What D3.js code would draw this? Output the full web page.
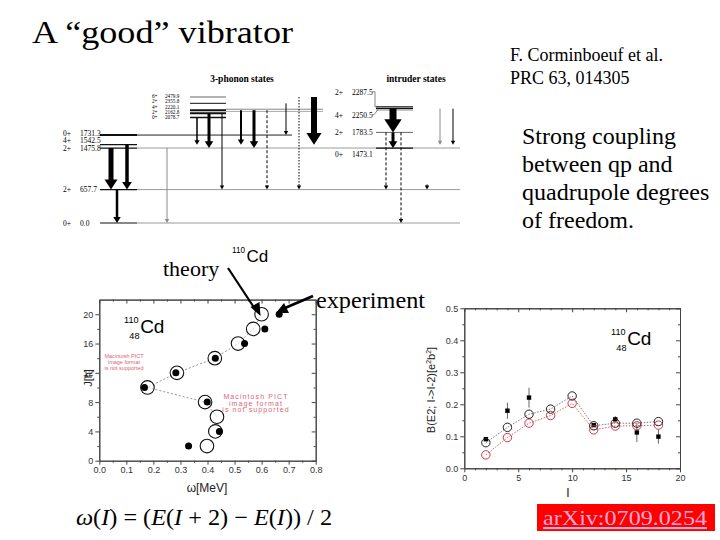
<!DOCTYPE html>
<html><head><meta charset="utf-8">
<script src="https://cdn.jsdelivr.net/npm/d3@7"></script>
<style>body{margin:0;background:#fff} svg{display:block}</style>
</head><body>
<script>
// ================= DATA =================
// level scheme (keV)
const groundSpins = ["0+","2+","2+","4+","0+"];
const groundEnergies = [0, 657.7, 1475.8, 1542.5, 1731.3];
const phononSpins = ["0+","2+","4+","2+","6+"];
const phononEnergies = [2078.7, 2162.8, 2220.1, 2355.8, 2479.9];
const intruderSpins = ["0+","2+","4+","2+"];
const intruderEnergies = [1473.1, 1783.5, 2250.5, 2287.5];
// transitions
const transFrom = [1475.8,1542.5,657.7,1475.8,2078.7,2162.8,2162.8,2220.1,2220.1,2220.1,2355.8,2479.9,2479.9,2250.5,1783.5,1783.5,1783.5,760,2250.5,2250.5];
const transTo   = [657.7,657.7,0,0,1542.5,1475.8,657.7,1542.5,1475.8,657.7,1731.3,657.7,1542.5,1783.5,1473.1,657.7,0,657.7,1542.5,1542.5];
const transIntensity = [5,3.5,2.5,1,1.5,3,1,2,3,1,1,1,6,7,3,1,1,1,1,1];
const transType = ["solid","solid","solid","gray","solid","solid","solid","solid","solid","dashed","solid","dotted","solid","solid","solid","dashed","dashed","solid","gray","solid"];
const transSlot = [11,27,17,67,97,109,122,141,154,167,186,199,214,293,293,286,301,327,340,353];

// omega vs spin
const spinTheory = [2,4,6,8,10,12,14,16,18,20];
const omegaTheory = [0.398,0.429,0.435,0.391,0.178,0.287,0.427,0.513,0.569,0.600];
const spinExp = [2,4,8,10,12,14,16,18,20];
const omegaExp = [0.330,0.444,0.399,0.167,0.283,0.429,0.537,0.612,0.665];
const omegaTicks = [0,0.1,0.2,0.3,0.4,0.5,0.6,0.7,0.8];
const spinTicks = [0,4,8,12,16,20];

// B(E2) vs spin
const spinB = [2,4,6,8,10,12,14,16,18];
const be2TheoryA = [0.080,0.128,0.169,0.185,0.226,0.133,0.141,0.141,0.146];
const be2TheoryB = [0.042,0.096,0.141,0.165,0.203,0.120,0.132,0.133,0.135];
const spinBExp = [2,4,6,12,14,16,18];
const be2Exp = [0.091,0.180,0.221,0.135,0.153,0.112,0.099];
const be2Err = [0.005,0.025,0.031,0.005,0.010,0.030,0.022];
const iTicks = [0,5,10,15,20];
const be2Ticks = [0,0.1,0.2,0.3,0.4,0.5];

// texts
const titleText = "A “good” vibrator";
const refLines = ["F. Corminboeuf et al.","PRC 63, 014305"];
const noteLines = ["Strong coupling","between qp and","quadrupole degrees","of freedom."];
const pictLines = ["Macintosh PICT","image format","is not supported"];

// ================= DRAW =================
const svg = d3.select("body").append("svg").attr("width",720).attr("height",540)
  .style("font-family","'Liberation Serif', serif");
svg.append("rect").attr("width",720).attr("height",540).attr("fill","#fff");

const serif = "'Liberation Serif', serif", sans = "'Liberation Sans', Arial, sans-serif";

svg.append("text").attr("x",32).attr("y",43).attr("font-size",31)
  .attr("textLength",261).attr("lengthAdjust","spacingAndGlyphs").text(titleText);

svg.selectAll("text.ref").data(refLines).join("text").attr("class","ref")
  .attr("x",510).attr("y",(d,i)=>61+i*23).attr("font-size",18).text(d=>d);

svg.selectAll("text.note").data(noteLines).join("text").attr("class","note")
  .attr("x",522).attr("y",(d,i)=>144+i*28).attr("font-size",24).text(d=>d);

// ---------- level scheme ----------
const yE = d3.scaleLinear().domain([0,2500]).range([223,96]);
const xS = d3.scaleLinear().domain([0,360]).range([100,460]);
const ls = svg.append("g");

ls.append("text").attr("x",242).attr("y",82).attr("text-anchor","middle")
  .attr("font-size",9.5).attr("font-weight","bold").text("3-phonon states");
ls.append("text").attr("x",416).attr("y",82).attr("text-anchor","middle")
  .attr("font-size",9.5).attr("font-weight","bold").text("intruder states");

// ground-band levels
const groundExt = [460,460,460,null,292];
const groundExtColor = ["#9a9a9a","#9a9a9a","#9a9a9a",null,"#222"];
groundEnergies.forEach((e,i)=>{
  if (groundExt[i]) ls.append("line").attr("x1",137).attr("x2",groundExt[i]).attr("y1",yE(e)).attr("y2",yE(e))
     .attr("stroke",groundExtColor[i]).attr("stroke-width",1);
  ls.append("line").attr("x1",100).attr("x2",137).attr("y1",yE(e)).attr("y2",yE(e))
     .attr("stroke","#111").attr("stroke-width", i===4?2:1.2);
});
// phonon levels
const phW = [1.5,2,2,1,1.5], phC = ["#111","#111","#111","#111","#999"];
ls.append("line").attr("x1",226).attr("x2",323).attr("y1",yE(2220.1)-1).attr("y2",yE(2220.1)-1).attr("stroke","#888").attr("stroke-width",1);
ls.append("line").attr("x1",226).attr("x2",323).attr("y1",yE(2220.1)+1.2).attr("y2",yE(2220.1)+1.2).attr("stroke","#aaa").attr("stroke-width",1);
phononEnergies.forEach((e,i)=>{
  ls.append("line").attr("x1",190).attr("x2",226).attr("y1",yE(e)).attr("y2",yE(e))
    .attr("stroke",phC[i]).attr("stroke-width",phW[i]);
});
// intruder levels
const inW = [1.3,1,1.3,1.3], inC = ["#111","#666","#111","#111"];
intruderEnergies.forEach((e,i)=>{
  ls.append("line").attr("x1",376).attr("x2",413).attr("y1",yE(e)).attr("y2",yE(e))
    .attr("stroke",inC[i]).attr("stroke-width",inW[i]);
});
ls.append("line").attr("x1",376).attr("x2",413).attr("y1",yE(2250.5)+1.5).attr("y2",yE(2250.5)+1.5).attr("stroke","#aaa").attr("stroke-width",1);

// labels with simple spreading
function spreadLabels(energies, gap){
  const ys = []; let prev = Infinity;
  energies.forEach((e,i)=>{ let y = yE(e); if (y > prev - gap) y = prev - gap; ys.push(y); prev = y; });
  return ys;
}
function drawLabels(spins, energies, ys, xs, xe, fs){
  spins.forEach((s,i)=>{
    ls.append("text").attr("x",xs).attr("y",ys[i]+fs/3).attr("font-size",fs).text(s);
    ls.append("text").attr("x",xe).attr("y",ys[i]+fs/3).attr("font-size",fs).text(energies[i].toFixed(1));
  });
}
drawLabels(groundSpins, groundEnergies, spreadLabels(groundEnergies,7.5), 63, 80, 7.5);
drawLabels(phononSpins, phononEnergies, spreadLabels(phononEnergies,5.3), 152, 165, 5.2);
const intruderLabelDy = [6,0,7,-14];
const inYs = intruderEnergies.map((e,i)=>yE(e)+intruderLabelDy[i]);
drawLabels(intruderSpins, intruderEnergies, inYs, 335, 352, 7.5);
ls.append("path").attr("d",`M372,${inYs[3]-1}H375V${yE(2287.5)}H378`).attr("fill","none").attr("stroke","#555").attr("stroke-width",0.7);
ls.append("path").attr("d",`M372,${inYs[2]-1}H374L378,${yE(2250.5)+1}`).attr("fill","none").attr("stroke","#555").attr("stroke-width",0.7);

// arrows
transFrom.forEach((f,i)=>{
  const x = xS(transSlot[i]), y1 = yE(f), y2 = yE(transTo[i]), w = transIntensity[i];
  const col = transType[i]==="gray" ? "#8a8a8a" : "#000";
  const hw = Math.max(2.2, w*1.1+1), hl = Math.max(4, w*1.6+2);
  const ln = ls.append("line").attr("x1",x).attr("x2",x).attr("y1",y1).attr("y2",y2-hl+1)
    .attr("stroke",col).attr("stroke-width",w);
  if (transType[i]==="dashed") ln.attr("stroke-dasharray","3,2");
  if (transType[i]==="dotted") ln.attr("stroke-dasharray","1.5,1.5");
  ls.append("path").attr("d",`M${x-hw},${y2-hl}L${x+hw},${y2-hl}L${x},${y2}Z`).attr("fill",col);
});

// ---------- nuclide label helper ----------
function nuclide(x, y, size, sub){
  const g = svg.append("g").style("font-family",sans);
  g.append("text").attr("x",x).attr("y",y-size*0.55).attr("font-size",size*0.48).text("110");
  if (sub) g.append("text").attr("x",x+size*0.28).attr("y",y+size*0.32).attr("font-size",size*0.48).text("48");
  g.append("text").attr("x",x+size*0.85).attr("y",y).attr("font-size",size).text("Cd");
}

// ---------- axes helper ----------
function originAxes(x, y, xMaj, xMin, yMaj, yMin, fx, fy){
  const [x0,x1] = x.range(), [y0,y1] = y.range();
  const g = svg.append("g");
  const style = sel => { sel.selectAll("path,line").attr("stroke","#444"); sel.selectAll("text").attr("fill","#333").attr("font-size",9).attr("font-family",sans); sel.attr("font-family",sans); };
  g.append("g").attr("transform",`translate(0,${y0})`).call(d3.axisBottom(x).tickValues(xMaj).tickSize(4).tickSizeOuter(0).tickPadding(2).tickFormat(fx)).call(style);
  g.append("g").attr("transform",`translate(0,${y0})`).call(d3.axisBottom(x).tickValues(xMin).tickSize(2).tickSizeOuter(0).tickFormat("")).call(style);
  g.append("g").attr("transform",`translate(0,${y1})`).call(d3.axisTop(x).tickValues(xMaj).tickSize(-4).tickSizeOuter(0).tickFormat("")).call(style);
  g.append("g").attr("transform",`translate(0,${y1})`).call(d3.axisTop(x).tickValues(xMin).tickSize(-2).tickSizeOuter(0).tickFormat("")).call(style);
  g.append("g").attr("transform",`translate(${x0},0)`).call(d3.axisLeft(y).tickValues(yMaj).tickSize(4).tickSizeOuter(0).tickPadding(2).tickFormat(fy)).call(style);
  g.append("g").attr("transform",`translate(${x0},0)`).call(d3.axisLeft(y).tickValues(yMin).tickSize(2).tickSizeOuter(0).tickFormat("")).call(style);
  g.append("g").attr("transform",`translate(${x1},0)`).call(d3.axisRight(y).tickValues(yMaj).tickSize(-4).tickSizeOuter(0).tickFormat("")).call(style);
  g.append("g").attr("transform",`translate(${x1},0)`).call(d3.axisRight(y).tickValues(yMin).tickSize(-2).tickSizeOuter(0).tickFormat("")).call(style);
}
const minorOf = (maj, step) => { const out=[]; for (let i=0;i<maj.length-1;i++) for (let k=1;k<step;k++) out.push(maj[i]+(maj[i+1]-maj[i])*k/step); return out; };

// ---------- left chart: omega vs J ----------
const xL = d3.scaleLinear().domain([0,0.8]).range([99.3,315.7]);
const yL = d3.scaleLinear().domain([0,22]).range([460.7,299.6]);
originAxes(xL, yL, omegaTicks, minorOf(omegaTicks,2), spinTicks, minorOf(spinTicks,2), d3.format(".1f"), d3.format("d"));
svg.append("text").attr("x",207).attr("y",492).attr("text-anchor","middle").attr("font-size",12).attr("font-family",sans).attr("fill","#222").text("ω[MeV]");
svg.append("text").attr("transform","translate(92,378) rotate(-90)").attr("text-anchor","middle").attr("font-size",11).attr("font-family",sans).attr("fill","#222").text("J[ħ]");

// red PICT placeholders
svg.selectAll("text.p1").data(pictLines).join("text").attr("class","p1")
  .attr("x",124).attr("y",(d,i)=>358+i*6).attr("text-anchor","middle").attr("font-size",5.5).attr("font-family",sans).attr("fill","#d9667a").text(d=>d);
svg.selectAll("text.p2").data(pictLines).join("text").attr("class","p2")
  .attr("x",256).attr("y",(d,i)=>399+i*6.5).attr("text-anchor","middle").attr("font-size",7).attr("letter-spacing",1.1).attr("font-family",sans).attr("fill","#d9667a").text(d=>d);

const thIdx = spinTheory.map((s,i)=>i).filter(i=>spinTheory[i]>=6);
svg.append("path").datum(thIdx).attr("fill","none").attr("stroke","#888").attr("stroke-width",0.9).attr("stroke-dasharray","2,2")
  .attr("d", d3.line().x(i=>xL(omegaTheory[i])).y(i=>yL(spinTheory[i])));
svg.selectAll("circle.th").data(spinTheory).join("circle").attr("class","th")
  .attr("cx",(d,i)=>xL(omegaTheory[i])).attr("cy",d=>yL(d)).attr("r",6.8)
  .attr("fill","#fff").attr("fill-opacity",0.6).attr("stroke","#111").attr("stroke-width",1.1);
svg.selectAll("circle.ex").data(spinExp).join("circle").attr("class","ex")
  .attr("cx",(d,i)=>xL(omegaExp[i])).attr("cy",d=>yL(d)).attr("r",3.5).attr("fill","#000");
nuclide(124, 333, 19, true);

// annotations
svg.append("text").attr("x",163).attr("y",276).attr("font-size",22).text("theory");
svg.append("text").attr("x",316).attr("y",308).attr("font-size",23).attr("textLength",109).attr("lengthAdjust","spacingAndGlyphs").text("experiment");
nuclide(232, 262, 17, false);
svg.append("line").attr("x1",228).attr("y1",268).attr("x2",255).attr("y2",309).attr("stroke","#000").attr("stroke-width",2.2);
svg.append("path").attr("d","M250.5,307 L259.5,302 L260.5,316 Z").attr("fill","#000");
svg.append("line").attr("x1",313).attr("y1",296).attr("x2",285).attr("y2",308).attr("stroke","#000").attr("stroke-width",2.8);
svg.append("path").attr("d","M284,303 L289,313 L276,313 Z").attr("fill","#000");

// ---------- right chart: B(E2) ----------
const xR = d3.scaleLinear().domain([0,20]).range([464.3,680]);
const yR = d3.scaleLinear().domain([0,0.5]).range([468.3,308.3]);
originAxes(xR, yR, iTicks, minorOf(iTicks,5), be2Ticks, minorOf(be2Ticks,2), d3.format("d"), d3.format(".1f"));
svg.append("text").attr("x",568).attr("y",497).attr("text-anchor","middle").attr("font-size",12).attr("font-family",sans).attr("fill","#222").text("I");
const yt = svg.append("text").attr("transform","translate(435,390) rotate(-90)").attr("text-anchor","middle").attr("font-size",11).attr("font-family",sans).attr("fill","#222");
yt.append("tspan").text("B(E2; I->I-2)[e");
yt.append("tspan").attr("font-size",7).attr("dy",-4).text("2");
yt.append("tspan").attr("dy",4).text("b");
yt.append("tspan").attr("font-size",7).attr("dy",-4).text("2");
yt.append("tspan").attr("dy",4).text("]");

const redC = "#cc3a48";
svg.append("path").datum(spinB).attr("fill","none").attr("stroke",redC).attr("stroke-width",0.8).attr("stroke-dasharray","1.5,1.5")
  .attr("d", d3.line().x(d=>xR(d)).y((d,i)=>yR(be2TheoryB[i])));
svg.append("path").datum(spinB).attr("fill","none").attr("stroke","#555").attr("stroke-width",0.8).attr("stroke-dasharray","1.5,1.5")
  .attr("d", d3.line().x(d=>xR(d)).y((d,i)=>yR(be2TheoryA[i])));
// experiment
svg.selectAll("line.err").data(spinBExp).join("line").attr("class","err")
  .attr("x1",d=>xR(d)).attr("x2",d=>xR(d)).attr("y1",(d,i)=>yR(be2Exp[i]-be2Err[i])).attr("y2",(d,i)=>yR(be2Exp[i]+be2Err[i]))
  .attr("stroke","#666").attr("stroke-width",1);
svg.selectAll("rect.bx").data(spinBExp).join("rect").attr("class","bx")
  .attr("x",d=>xR(d)-2.2).attr("y",(d,i)=>yR(be2Exp[i])-2.2).attr("width",4.4).attr("height",4.4).attr("fill","#000");
svg.selectAll("circle.ra").data(spinB).join("circle").attr("class","ra")
  .attr("cx",d=>xR(d)).attr("cy",(d,i)=>yR(be2TheoryB[i])).attr("r",4.2).attr("fill","none").attr("stroke",redC).attr("stroke-width",1);
svg.selectAll("circle.ka").data(spinB).join("circle").attr("class","ka")
  .attr("cx",d=>xR(d)).attr("cy",(d,i)=>yR(be2TheoryA[i])).attr("r",4.2).attr("fill","none").attr("stroke","#222").attr("stroke-width",1);
nuclide(611, 345, 19, true);

// ---------- formula ----------
const fm = svg.append("text").attr("x",76).attr("y",525).attr("font-size",23).attr("textLength",256).attr("lengthAdjust","spacingAndGlyphs");
[["ω",1],["(",0],["I",1],[") = (",0],["E",1],["(",0],["I",1],[" + 2) − ",0],["E",1],["(",0],["I",1],["))",0],[" / 2",0]]
  .forEach(([t,it])=>fm.append("tspan").attr("font-style",it?"italic":"normal").text(t));

// ---------- arXiv box ----------
svg.append("rect").attr("x",537).attr("y",504).attr("width",178).attr("height",27).attr("fill","#ff0000");
svg.append("text").attr("x",543).attr("y",525).attr("font-size",21).attr("fill","#f4a8d4")
  .attr("text-decoration","underline").attr("textLength",164).attr("lengthAdjust","spacingAndGlyphs").text("arXiv:0709.0254");
</script>
</body></html>
